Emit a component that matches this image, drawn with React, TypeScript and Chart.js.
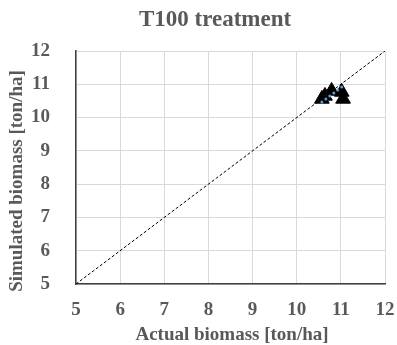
import { useEffect, useRef } from "react";
import { Chart, registerables } from "chart.js";

Chart.register(...registerables);

const chartTitle = "T100 treatment";
const xAxisTitle = "Actual biomass [ton/ha]";
const yAxisTitle = "Simulated biomass [ton/ha]";

const actualBiomass = [10.57, 10.64, 10.79, 11.02, 11.05];
const simulatedBiomass = [10.56, 10.65, 10.8, 10.77, 10.56];

const blueX = [10.57, 10.66, 10.75, 10.84, 10.93, 11.02];
const blueY = [10.47, 10.56, 10.65, 10.74, 10.83, 10.92];

const lineX = [5, 12];
const lineY = [5, 12];

const axisMin = 5;
const axisMax = 12;

const textColor = "#595959";
const fontFamily = "'Liberation Serif', 'Times New Roman', serif";

export default function App() {
  const ref = useRef<HTMLCanvasElement>(null);

  useEffect(() => {
    if (!ref.current) return;
    const titlePlugin = {
      id: "customTitles",
      afterDraw(chart: any) {
        const ctx = chart.ctx as CanvasRenderingContext2D;
        ctx.save();
        ctx.fillStyle = textColor;
        ctx.textAlign = "center";
        ctx.textBaseline = "middle";
        ctx.font = `bold 23px ${fontFamily}`;
        ctx.fillText(chartTitle, 215, 20);
        ctx.font = `bold 19px ${fontFamily}`;
        ctx.fillText(xAxisTitle, 232, 335);
        ctx.translate(17, 181);
        ctx.rotate(-Math.PI / 2);
        ctx.fillText(yAxisTitle, 0, 0);
        ctx.restore();
      },
    };

    const chart = new Chart(ref.current, {
      type: "scatter",
      data: {
        datasets: [
          {
            data: blueX.map((x, i) => ({ x, y: blueY[i] })),
            pointStyle: "circle",
            pointRadius: 1.5,
            backgroundColor: "#5b9bd5",
            borderColor: "#5b9bd5",
            borderWidth: 0,
            order: 0,
          },
          {
            data: actualBiomass.map((x, i) => ({ x, y: simulatedBiomass[i] })),
            pointStyle: "triangle",
            pointRadius: 8.5,
            backgroundColor: "#000000",
            borderColor: "#000000",
            borderWidth: 1,
            order: 1,
          },
          {
            type: "line",
            data: lineX.map((x, i) => ({ x, y: lineY[i] })),
            borderColor: "#000000",
            borderWidth: 1,
            borderDash: [3, 2],
            pointRadius: 0,
            fill: false,
            order: 2,
          } as any,
        ],
      },
      options: {
        animation: false,
        responsive: false,
        maintainAspectRatio: false,
        layout: { padding: { top: 51, right: 12, left: 0, bottom: 0 } },
        plugins: {
          legend: { display: false },
          tooltip: { enabled: false },
          title: { display: false },
        },
        scales: {
          x: {
            type: "linear",
            min: axisMin,
            max: axisMax,
            ticks: {
              stepSize: 1,
              padding: 15,
              color: textColor,
              font: { family: fontFamily, size: 19, weight: "bold" },
            },
            grid: { color: "#d9d9d9", drawTicks: false },
            border: { color: "#404040", width: 1.5 },
            afterFit(scale: any) {
              scale.height = 61;
              scale.paddingLeft = 0;
              scale.paddingRight = 0;
            },
          },
          y: {
            type: "linear",
            min: axisMin,
            max: axisMax,
            ticks: {
              stepSize: 1,
              padding: 26,
              color: textColor,
              font: { family: fontFamily, size: 19, weight: "bold" },
            },
            grid: { color: "#d9d9d9", drawTicks: false },
            border: { color: "#404040", width: 1.5 },
            afterFit(scale: any) {
              scale.width = 76;
              scale.paddingTop = 0;
              scale.paddingBottom = 0;
            },
          },
        },
      },
      plugins: [titlePlugin],
    });
    return () => chart.destroy();
  }, []);

  return (
    <div style={{ position: "absolute", left: 0, top: 0, width: 397, height: 345, background: "#fff" }}>
      <canvas ref={ref} width={397} height={345} style={{ width: 397, height: 345, display: "block" }} />
    </div>
  );
}
